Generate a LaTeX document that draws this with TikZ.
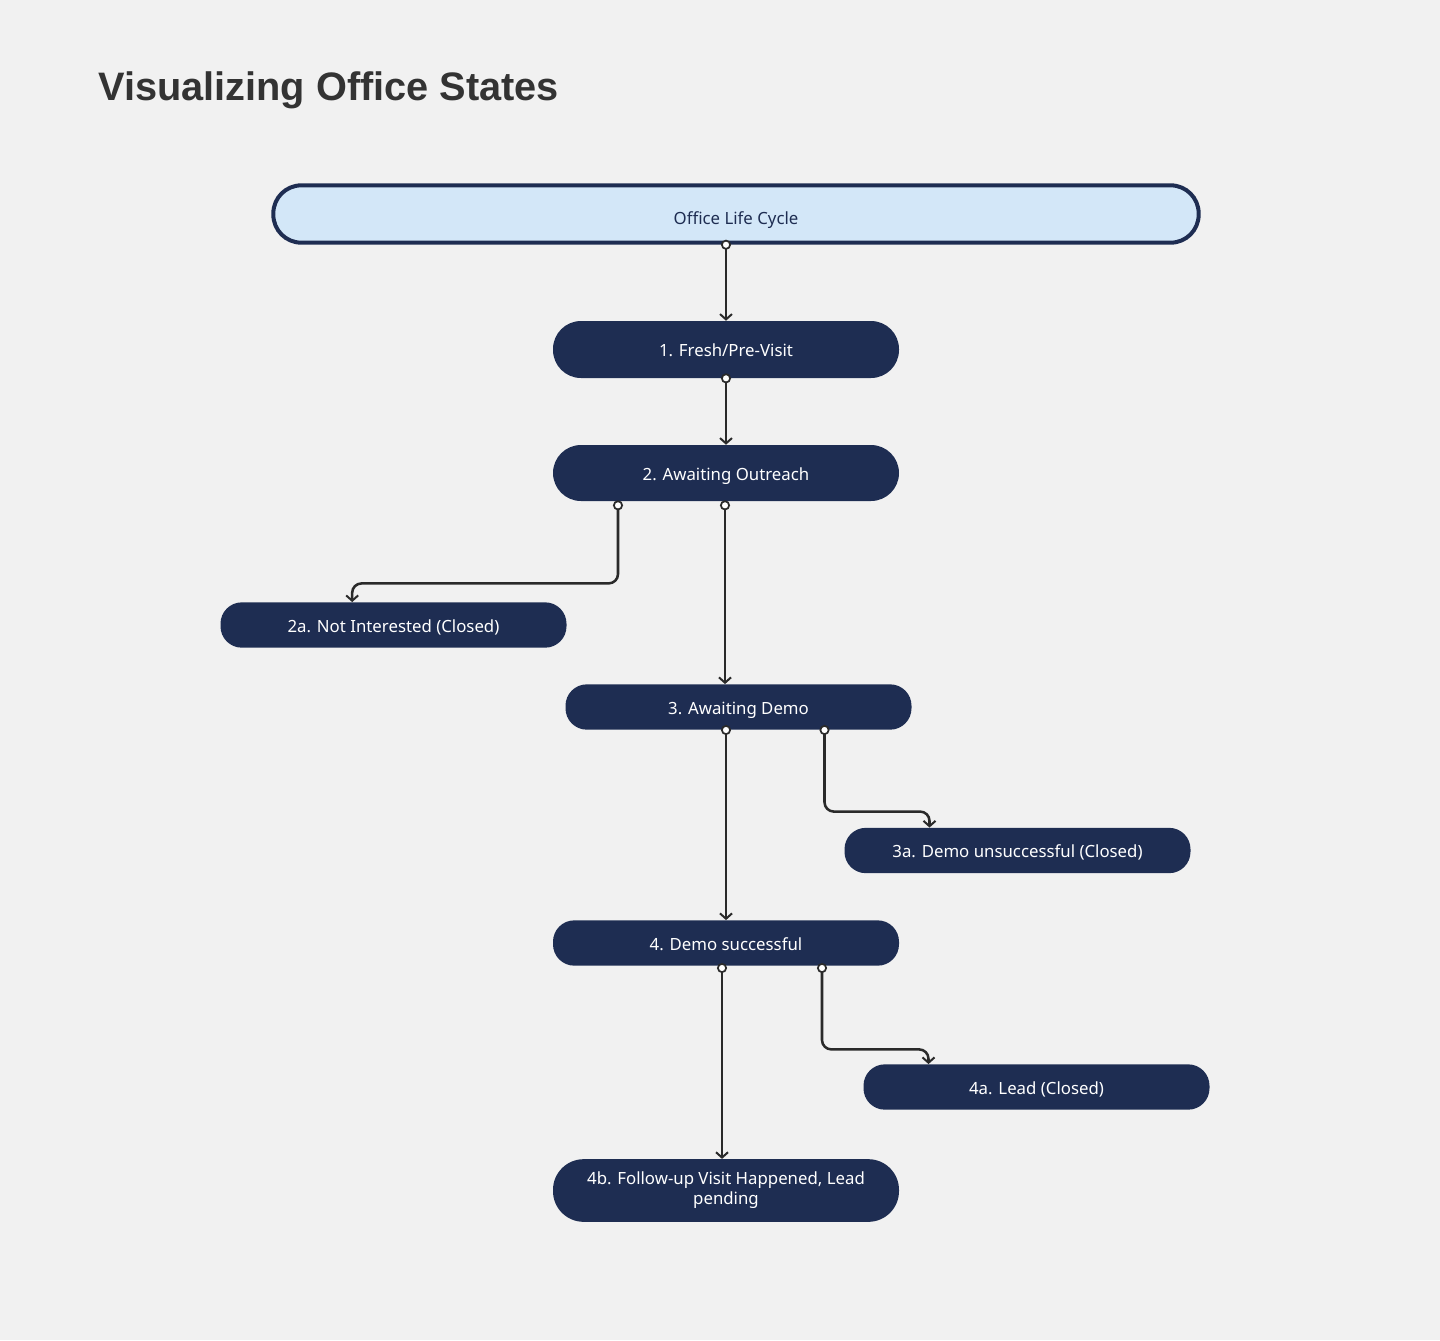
\documentclass[tikz,border=0pt]{standalone}
\usepackage{fontspec}
\setmainfont{Noto Sans}
\newfontfamily\titlefont{Liberation Sans}
\usetikzlibrary{arrows.meta}
\definecolor{bg}{HTML}{F1F1F1}
\definecolor{navy}{HTML}{1E2D52}
\definecolor{lightblue}{HTML}{D3E7F8}
\definecolor{wire}{HTML}{2A2A2A}
\definecolor{titlec}{HTML}{333333}
\tikzset{
  state/.style={draw=none, fill=navy, text=white, rounded corners=16pt, minimum width=259.5pt, minimum height=34pt, inner sep=0pt, align=center, font=\fontsize{12.6}{15}\selectfont},
  oneline/.style={text height=13pt, text depth=2pt},
  root/.style={draw=navy, line width=3pt, fill=lightblue, text=navy, rounded corners=21pt, minimum width=694pt, minimum height=43pt, inner sep=0pt, font=\fontsize{12.6}{15}\selectfont, text height=17pt, text depth=2pt},
  link/.style={draw=wire, line width=1.9pt, rounded corners=7pt, {Circle[fill=white,length=7.5pt,width=7.5pt,line width=1.3pt]}-{Straight Barb[length=4pt,width=9pt,line width=1.5pt]}, shorten <=-3.7pt}
}
\begin{document}
\begin{tikzpicture}[x=0.75pt,y=-0.75pt]
\fill[bg] (0,0) rectangle (1440,1340);
\useasboundingbox (0,0) rectangle (1440,1340);
\node[anchor=base west, inner sep=0pt, text=titlec, font=\titlefont\fontsize{29.8}{36}\bfseries\selectfont] (title) at (98,100) {Visualizing Office States};
\node[root] (lc) at (736,214) {Office Life Cycle};
\node[state, oneline, minimum height=42.75pt, rounded corners=21pt] (s1) at (726,349.5) {1. Fresh/Pre-Visit};
\node[state, oneline, minimum height=42pt, rounded corners=21pt] (s2) at (726,473) {2. Awaiting Outreach};
\node[state, oneline] (s2a) at (393.5,625) {2a. Not Interested (Closed)};
\node[state, oneline] (s3) at (738.5,707) {3. Awaiting Demo};
\node[state, oneline] (s3a) at (1017.5,850.5) {3a. Demo unsuccessful (Closed)};
\node[state, oneline] (s4) at (726,943) {4. Demo successful};
\node[state, oneline] (s4a) at (1036.5,1087) {4a. Lead (Closed)};
\node[state, minimum height=47pt, rounded corners=23pt, font=\fontsize{12.6}{15}\selectfont] (s4b) at (726,1190.5) {4b. Follow-up Visit Happened, Lead\\pending};
% connectors
\draw[link] ([xshift=-7.5pt]lc.south) -- (s1.north);
\draw[link] (s1.south) -- (s2.north);
\draw[link] ([xshift=-81pt,yshift=-3pt]s2.south) |- ([xshift=-31pt,yshift=14pt]s2a.north) -- ([xshift=-31pt]s2a.north);
\draw[link] ([xshift=-0.75pt,yshift=-3pt]s2.south) -- ([xshift=-10.125pt]s3.north);
\draw[link] ([xshift=-9.375pt]s3.south) -- (s4.north);
\draw[link] ([xshift=64.5pt]s3.south) |- ([xshift=-66pt,yshift=12pt]s3a.north) -- ([xshift=-66pt]s3a.north);
\draw[link] ([xshift=-3pt,yshift=-1.5pt]s4.south) -- ([xshift=-3pt]s4b.north);
\draw[link] ([xshift=72pt,yshift=-1.5pt]s4.south) |- ([xshift=-81pt,yshift=11pt]s4a.north) -- ([xshift=-81pt]s4a.north);
\end{tikzpicture}
\end{document}
